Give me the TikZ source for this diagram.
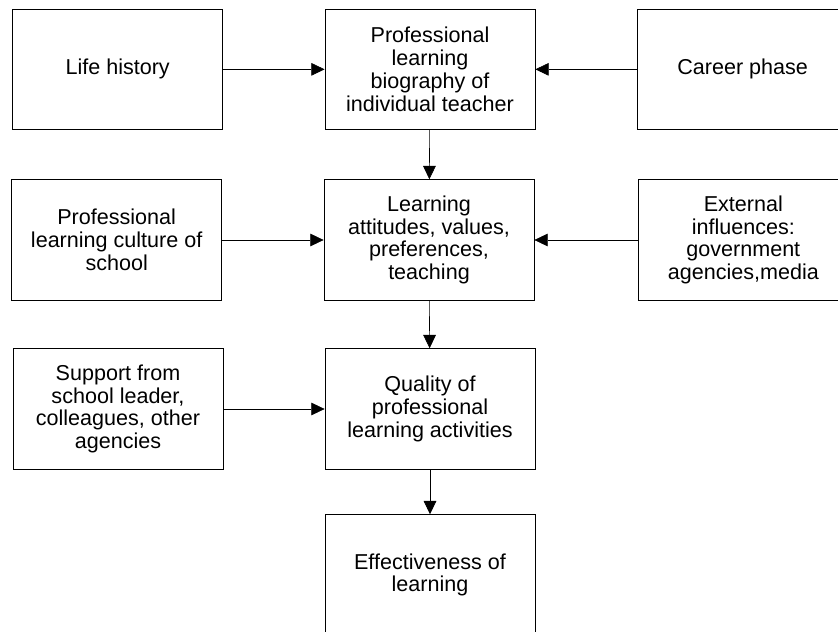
\documentclass[tikz,border=0pt]{standalone}
\usepackage{fontspec}
\setmainfont{Liberation Sans}
\usetikzlibrary{arrows.meta}
\begin{document}
\begin{tikzpicture}[every node/.style={rectangle,draw,line width=0.7pt,align=center,minimum width=6.3cm,minimum height=3.62cm,inner sep=2pt,font=\fontsize{18.4pt}{19.5pt}\selectfont},
  flow/.style={-{Triangle[length=0.4cm,width=0.38cm]},line width=0.5pt}]
\clip (0,0) rectangle (25.14,18.93);
% top row
\node (life) at (3.53,16.85) {Life history};
\node (bio) at (12.9,16.85) {Professional\\learning\\biography of\\individual teacher};
\node (career) at (22.28,16.85) {Career phase};
% second row
\node (culture) at (3.5,11.73) {Professional\\learning culture of\\school};
\node (attitudes) at (12.87,11.73) {Learning\\attitudes, values,\\preferences,\\teaching};
\node (external) at (22.3,11.73) {External\\influences:\\government\\agencies,media};
% third row
\node (support) at (3.54,6.66) {Support from\\school leader,\\colleagues, other\\agencies};
\node (quality) at (12.9,6.66) {Quality of\\professional\\learning activities};
% bottom
\node (effect) at (12.9,1.68) {Effectiveness of\\learning};
\draw[flow] (life)--(bio);
\draw[flow] (career)--(bio);
\draw[flow] (bio)--(attitudes);
\draw[flow] (culture)--(attitudes);
\draw[flow] (external)--(attitudes);
\draw[flow] (attitudes)--(quality);
\draw[flow] (support)--(quality);
\draw[flow] (quality)--(effect);
\end{tikzpicture}
\end{document}
